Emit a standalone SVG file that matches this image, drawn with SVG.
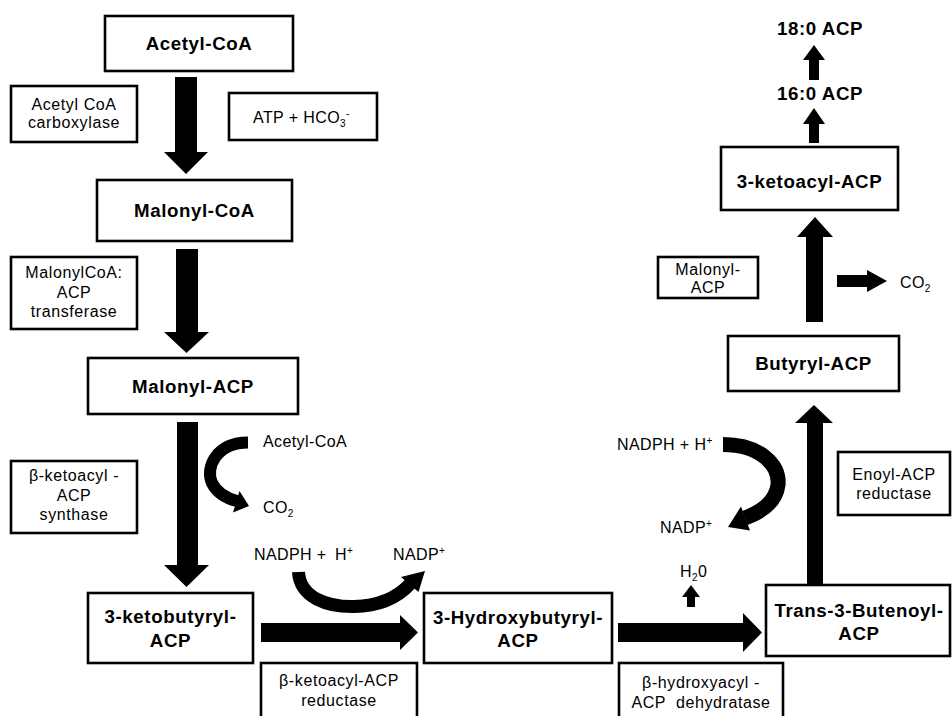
<svg xmlns="http://www.w3.org/2000/svg" width="952" height="716" viewBox="0 0 952 716">
<style>
.box{fill:#fff;stroke:#000;stroke-width:2.6}
.node{font-family:"Liberation Sans",Arial,sans-serif;font-weight:bold;font-size:18.7px;letter-spacing:0.6px;text-anchor:middle;fill:#000}
.lbl{font-family:"Liberation Sans",Arial,sans-serif;font-size:16px;letter-spacing:0.6px;text-anchor:middle;fill:#000}
.free{font-family:"Liberation Sans",Arial,sans-serif;font-size:16px;letter-spacing:0.4px;fill:#000}
.arr{fill:#000}
.curve{fill:none;stroke:#000;stroke-linecap:butt}
</style>
<rect width="952" height="716" fill="#fff"/>

<g id="connectors">
  <polygon class="arr" points="175,77 197,77 197,152 208,152 186,174 164,152 175,152"/>
  <polygon class="arr" points="176,249 198,249 198,332 209,332 186.5,353 164,332 176,332"/>
  <polygon class="arr" points="177,422 198,422 198,565 209,565 186.5,587 164,565 177,565"/>
  <polygon class="arr" points="261,623 400,623 400,615 418,632.5 400,650 400,642 261,642"/>
  <polygon class="arr" points="618,623 743,623 743,613 762,632.5 743,652 743,642 618,642"/>
  <polygon class="arr" points="687,607 695,607 695,597 700,597 691,585 682,597 687,597"/>
  <polygon class="arr" points="807,585 823,585 823,423 833,423 814,405 795,423 807,423"/>
  <polygon class="arr" points="806,322 823,322 823,237 833,237 815,217 797,237 806,237"/>
  <polygon class="arr" points="837,275 867,275 867,270 887,281 867,292 867,287 837,287"/>
  <polygon class="arr" points="809,143 819,143 819,124 825,124 814,108 803,124 809,124"/>
  <polygon class="arr" points="809,80 819,80 819,60 825,60 814,45 803,60 809,60"/>
  <!-- curved arrow: Acetyl-CoA -> CO2 -->
  <path class="curve" stroke-width="12" d="M248,442.5 C216,442.5 205,468 212,483 C217,493 225,498 237,501"/>
  <polygon class="arr" points="233,512.5 239.5,491 249,506"/>
  <!-- curved arrow: NADPH + H+ -> NADP+ (bottom) -->
  <path class="curve" stroke-width="13" d="M298.5,572 C300,598 328,607 354,606.5 C380,606 398,597 410,584"/>
  <polygon class="arr" points="418.5,592 401,577 425,571"/>
  <!-- curved arrow: NADPH + H+ -> NADP+ (right) -->
  <path class="curve" stroke-width="15" d="M723,444.5 C760,444.5 780,465 778,485 C776,500 764,511 745,518"/>
  <polygon class="arr" points="750,530.5 741,506.5 728,527"/>
</g>

<g id="acetyl-coa">
  <rect class="box" x="105" y="16" width="188" height="55"/>
  <text class="node" x="199" y="50">Acetyl-CoA</text>
</g>
<g id="malonyl-coa">
  <rect class="box" x="97" y="180" width="195" height="61"/>
  <text class="node" x="194.5" y="217">Malonyl-CoA</text>
</g>
<g id="malonyl-acp">
  <rect class="box" x="88" y="358" width="210" height="56"/>
  <text class="node" x="193" y="393">Malonyl-ACP</text>
</g>
<g id="ketobutyryl-acp">
  <rect class="box" x="88" y="593" width="165" height="70"/>
  <text class="node" x="170.5" y="623">3-ketobutyryl-</text>
  <text class="node" x="170.5" y="647">ACP</text>
</g>
<g id="hydroxybutyryl-acp">
  <rect class="box" x="424" y="593" width="188" height="70"/>
  <text class="node" x="518" y="624">3-Hydroxybutyryl-</text>
  <text class="node" x="518" y="647">ACP</text>
</g>
<g id="butenoyl-acp">
  <rect class="box" x="766" y="585" width="184" height="71"/>
  <text class="node" x="859" y="617">Trans-3-Butenoyl-</text>
  <text class="node" x="859" y="640">ACP</text>
</g>
<g id="butyryl-acp">
  <rect class="box" x="728" y="336" width="171" height="55"/>
  <text class="node" x="813.5" y="370">Butyryl-ACP</text>
</g>
<g id="ketoacyl-acp">
  <rect class="box" x="721" y="147" width="177" height="63"/>
  <text class="node" x="809.5" y="188">3-ketoacyl-ACP</text>
</g>
<g id="c16-acp">
  <text class="node" x="820" y="100">16:0 ACP</text>
</g>
<g id="c18-acp">
  <text class="node" x="820" y="35">18:0 ACP</text>
</g>

<g id="acetyl-coa-carboxylase">
  <rect class="box" x="11" y="86" width="126" height="56"/>
  <text class="lbl" x="74" y="110">Acetyl CoA</text>
  <text class="lbl" x="74" y="128">carboxylase</text>
</g>
<g id="atp-hco3">
  <rect class="box" x="229" y="93" width="148" height="47"/>
  <text class="free" x="253" y="123">ATP + HCO<tspan font-size="10" dy="4">3</tspan><tspan font-size="10" dy="-10">-</tspan></text>
</g>
<g id="acp-transferase">
  <rect class="box" x="11" y="257" width="126" height="72"/>
  <text class="lbl" x="74" y="278">MalonylCoA:</text>
  <text class="lbl" x="74" y="298">ACP</text>
  <text class="lbl" x="74" y="317">transferase</text>
</g>
<g id="ketoacyl-acp-synthase">
  <rect class="box" x="11" y="461" width="126" height="72"/>
  <text class="lbl" x="74" y="481">β-ketoacyl -</text>
  <text class="lbl" x="74" y="501">ACP</text>
  <text class="lbl" x="74" y="520">synthase</text>
</g>
<g id="ketoacyl-acp-reductase">
  <rect class="box" x="261" y="663" width="156" height="70"/>
  <text class="lbl" x="339" y="686">β-ketoacyl-ACP</text>
  <text class="lbl" x="339" y="706">reductase</text>
</g>
<g id="hydroxyacyl-acp-dehydratase">
  <rect class="box" x="619" y="663" width="164" height="70"/>
  <text class="lbl" x="701" y="688" xml:space="preserve">β-hydroxyacyl -</text>
  <text class="lbl" x="701" y="708" xml:space="preserve">ACP  dehydratase</text>
</g>
<g id="enoyl-acp-reductase">
  <rect class="box" x="838" y="452" width="112" height="63"/>
  <text class="lbl" x="894" y="480">Enoyl-ACP</text>
  <text class="lbl" x="894" y="499">reductase</text>
</g>
<g id="malonyl-acp-label">
  <rect class="box" x="658" y="257" width="100" height="41"/>
  <text class="lbl" x="708" y="275">Malonyl-</text>
  <text class="lbl" x="708" y="293">ACP</text>
</g>

<g id="small-labels">
  <text class="free" x="263" y="447">Acetyl-CoA</text>
  <text class="free" x="263" y="513">CO<tspan font-size="10" dy="4">2</tspan></text>
  <text class="free" x="254" y="560">NADPH +</text>
  <text class="free" x="335" y="560">H<tspan font-size="10" dy="-6">+</tspan></text>
  <text class="free" x="393" y="560">NADP<tspan font-size="10" dy="-6">+</tspan></text>
  <text class="free" x="617" y="450">NADPH + H<tspan font-size="10" dy="-6">+</tspan></text>
  <text class="free" x="660" y="533">NADP<tspan font-size="10" dy="-6">+</tspan></text>
  <text class="free" x="680" y="577">H<tspan font-size="10" dy="4">2</tspan><tspan dy="-4">0</tspan></text>
  <text class="free" x="900" y="288">CO<tspan font-size="10" dy="4">2</tspan></text>
</g>
</svg>
